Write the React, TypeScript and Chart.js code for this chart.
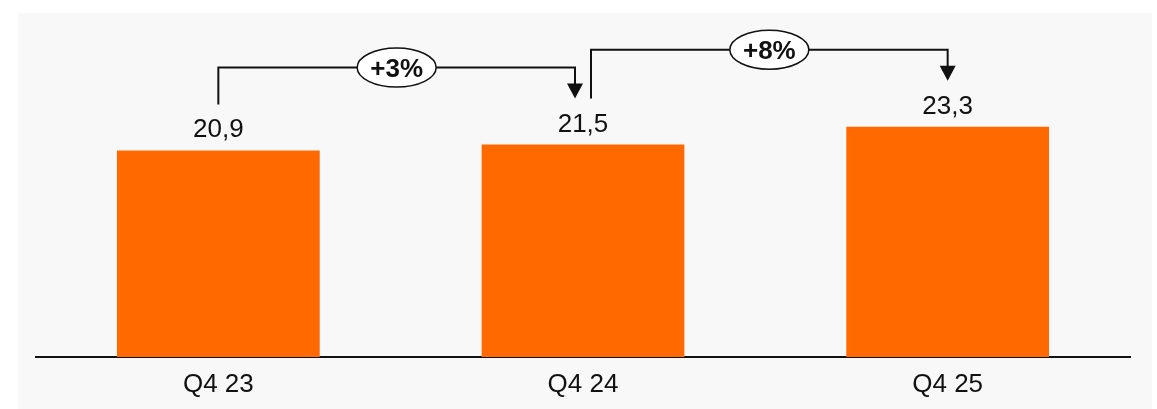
import React, { useEffect, useRef } from "react";
import { Chart, registerables } from "chart.js";

Chart.register(...registerables);

const categories = ["Q4 23", "Q4 24", "Q4 25"];
const values = [20.9, 21.5, 23.3];
const valueLabels = ["20,9", "21,5", "23,3"];
const growthLabels = ["+3%", "+8%"];

const FONT = "'Liberation Sans', Arial, sans-serif";

const annotationPlugin = {
  id: "bracketAnnotations",
  afterDatasetsDraw(chart: any) {
    const { ctx } = chart;
    const meta = chart.getDatasetMeta(0);
    const bars = meta.data;
    ctx.save();
    ctx.fillStyle = "#111";
    ctx.font = `400 26px ${FONT}`;
    ctx.textAlign = "center";
    ctx.textBaseline = "alphabetic";
    bars.forEach((b: any, i: number) => {
      ctx.fillText(valueLabels[i], b.x, b.y - 13);
    });

    const labelTop = (b: any) => b.y - 46;
    for (let i = 0; i < bars.length - 1; i++) {
      const a = bars[i];
      const c = bars[i + 1];
      const startX = i === 0 ? a.x : a.x + 8;
      const endX = i + 1 === bars.length - 1 ? c.x : c.x - 8;
      const startY = labelTop(a);
      const endY = labelTop(c);
      const topY = Math.min(a.y, c.y) - 77;
      ctx.strokeStyle = "#111";
      ctx.lineWidth = 2;
      ctx.beginPath();
      ctx.moveTo(startX, startY);
      ctx.lineTo(startX, topY);
      ctx.lineTo(endX, topY);
      ctx.lineTo(endX, endY - 14);
      ctx.stroke();
      ctx.fillStyle = "#111";
      ctx.beginPath();
      ctx.moveTo(endX - 8, endY - 15);
      ctx.lineTo(endX + 8, endY - 15);
      ctx.lineTo(endX, endY);
      ctx.closePath();
      ctx.fill();

      const mx = (startX + endX) / 2;
      ctx.beginPath();
      ctx.ellipse(mx, topY, 39.5, 19.5, 0, 0, Math.PI * 2);
      ctx.fillStyle = "#ffffff";
      ctx.fill();
      ctx.lineWidth = 1.5;
      ctx.stroke();
      ctx.fillStyle = "#111";
      ctx.font = `700 26px ${FONT}`;
      ctx.textBaseline = "alphabetic";
      ctx.fillText(growthLabels[i], mx, topY + 9.5);
      ctx.font = `400 26px ${FONT}`;
    }
    ctx.restore();
  },
};

export default function App() {
  const ref = useRef<HTMLCanvasElement | null>(null);
  useEffect(() => {
    if (!ref.current) return;
    const chart = new Chart(ref.current, {
      type: "bar",
      data: {
        labels: categories,
        datasets: [
          {
            data: values,
            backgroundColor: "#ff6900",
            borderWidth: 0,
            barPercentage: 0.556,
            categoryPercentage: 1,
          },
        ],
      },
      options: {
        animation: false,
        responsive: false,
        maintainAspectRatio: false,
        layout: { padding: { top: 8, bottom: -3.2, left: 18, right: 22 } },
        plugins: { legend: { display: false }, tooltip: { enabled: false } },
        scales: {
          x: {
            grid: { display: false, drawTicks: false },
            border: { display: true, color: "#111", width: 2 },
            ticks: {
              color: "#111",
              font: { family: FONT, size: 26, weight: "400" },
              padding: 12,
            },
          },
          y: {
            display: false,
            min: 0,
            max: 34,
          },
        },
      },
      plugins: [annotationPlugin],
    });
    return () => chart.destroy();
  }, []);

  return (
    <div style={{ position: "absolute", left: 0, top: 0, width: 1157, height: 409, background: "#ffffff" }}>
      <div style={{ position: "absolute", left: 18, top: 13, width: 1134, height: 396, background: "#f8f8f8", overflow: "hidden" }}>
        <canvas ref={ref} width={1134} height={396} style={{ display: "block" }} />
      </div>
    </div>
  );
}
